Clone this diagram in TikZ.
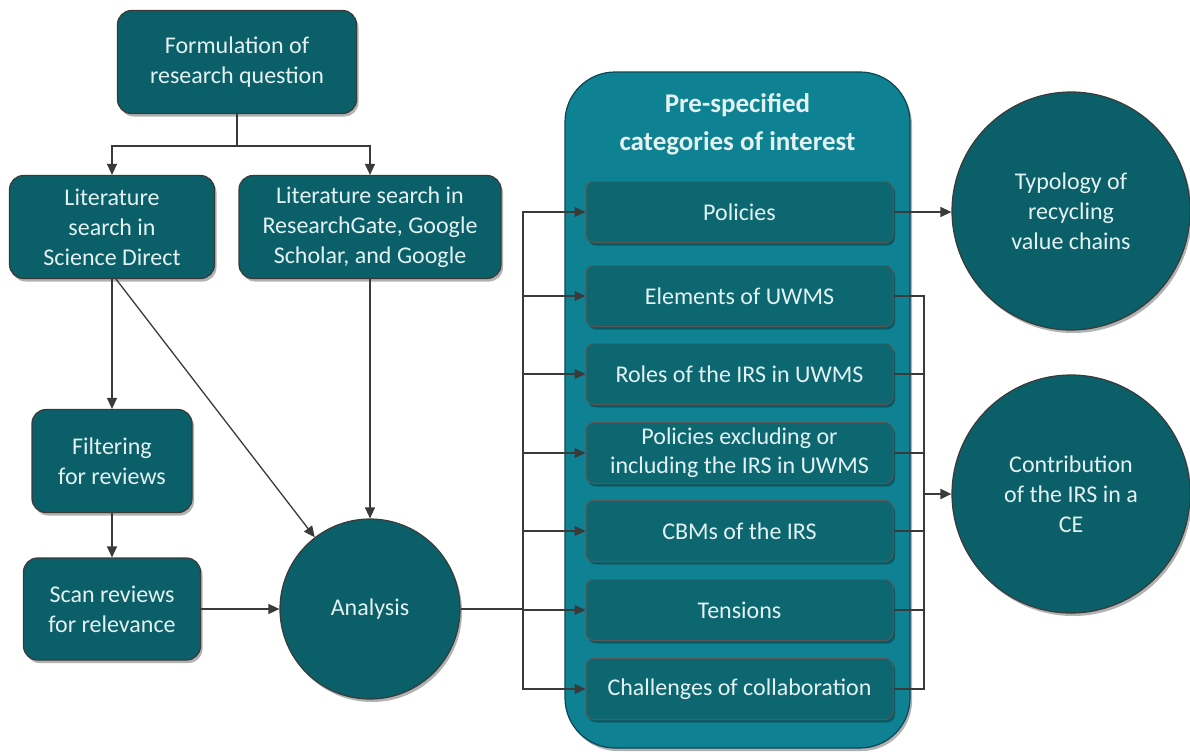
\documentclass[tikz,border=0pt]{standalone}
\usepackage{fontspec}
\setmainfont{Carlito}
\usetikzlibrary{arrows.meta,shadows}
\definecolor{tealnode}{HTML}{0B5F69}
\definecolor{tealbox}{HTML}{0C6771}
\definecolor{tealpanel}{HTML}{0E8292}
\definecolor{paneledge}{HTML}{0A4656}
\definecolor{edgegray}{HTML}{3A3A3A}
\definecolor{textwhite}{HTML}{E4F1F1}
\tikzset{
  softshadow/.style={drop shadow={shadow xshift=2pt, shadow yshift=-3pt, opacity=0.3, fill=black}},
  body/.style={font=\fontsize{24}{30}\selectfont, text=textwhite, align=center},
  procbox/.style={body, draw=edgegray, line width=1.2pt, fill=tealnode, rounded corners=14pt, softshadow},
  roundnode/.style={body, circle, draw=edgegray, line width=1.2pt, fill=tealnode, inner sep=0pt, softshadow},
  catbox/.style={body, draw=edgegray!85, line width=1pt, fill=tealbox, rounded corners=8pt,
    minimum width=307pt, minimum height=61pt, inner sep=0pt, softshadow},
  link/.style={draw=edgegray, line width=1.3pt},
  flow/.style={link, -{Triangle[length=11pt,width=10pt]}}
}
\begin{document}
\begin{tikzpicture}[x=1pt,y=-1pt]
\useasboundingbox (0,0) rectangle (1190,752);

% left-hand process boxes
\node[procbox, minimum width=239pt, minimum height=103pt] (form) at (237,62) {Formulation of\\research question};
\node[procbox, minimum width=205pt, minimum height=103pt] (sd) at (112,227) {Literature\\search in\\Science Direct};
\node[procbox, minimum width=262pt, minimum height=103pt] (rg) at (370,227) {Literature search in\\ResearchGate, Google\\Scholar, and Google};
\node[procbox, minimum width=160pt, minimum height=103pt] (filt) at (112,461) {Filtering\\for reviews};
\node[procbox, minimum width=177pt, minimum height=102pt] (scan) at (112,609) {Scan reviews\\for relevance};
\node[roundnode, minimum size=180pt] (ana) at (370,609) {Analysis};

% panel of categories
\node[draw=paneledge, line width=1.2pt, fill=tealpanel, rounded corners=50pt,
      minimum width=345pt, minimum height=676pt, softshadow] (panel) at (737.5,410) {};
\node[body, font=\bfseries\fontsize{27}{38}\selectfont] (ptitle) at (737.5,124) {Pre-specified\\categories of interest};
\node[catbox] (c1) at (739.5,212) {Policies};
\node[catbox] (c2) at (739.5,296) {Elements of UWMS};
\node[catbox] (c3) at (739.5,374) {Roles of the IRS in UWMS};
\node[catbox, font=\fontsize{24}{29}\selectfont] (c4) at (739.5,453) {Policies excluding or\\including the IRS in UWMS};
\node[catbox] (c5) at (739.5,531) {CBMs of the IRS};
\node[catbox] (c6) at (739.5,610) {Tensions};
\node[catbox] (c7) at (739.5,689) {Challenges of collaboration};

% outcome circles
\node[roundnode, minimum size=238pt] (out1) at (1071,211) {Typology of\\recycling\\value chains};
\node[roundnode, minimum size=238pt] (out2) at (1071,494) {Contribution\\of the IRS in a\\CE};

% connectors
\draw[flow] (form.south) -- ++(0,32) -| (sd.north);
\draw[flow] (form.south) -- ++(0,32) -| (rg.north);
\draw[flow] (sd.south) -- (filt.north);
\draw[flow] ([xshift=4pt]sd.south) -- (ana);
\draw[flow] (rg.south) -- (ana.north);
\draw[flow] (filt.south) -- (scan.north);
\draw[flow] (scan.east) -- (ana.west);

\coordinate (busL) at (523,609);
\draw[link, line width=2pt] (ana.east) -- (busL);
\foreach \n in {c1,c2,c3,c4,c5,c6,c7}
  \draw[flow] (busL) |- (\n.west);

\coordinate (busR) at (924,494);
\foreach \n in {c2,c3,c4,c5,c6,c7}
  \draw[link] (\n.east) -| (busR);
\draw[flow, line width=2pt] (busR) -- (out2.west);
\draw[flow] (c1.east) -- (out1.west |- c1.east);
\end{tikzpicture}
\end{document}
